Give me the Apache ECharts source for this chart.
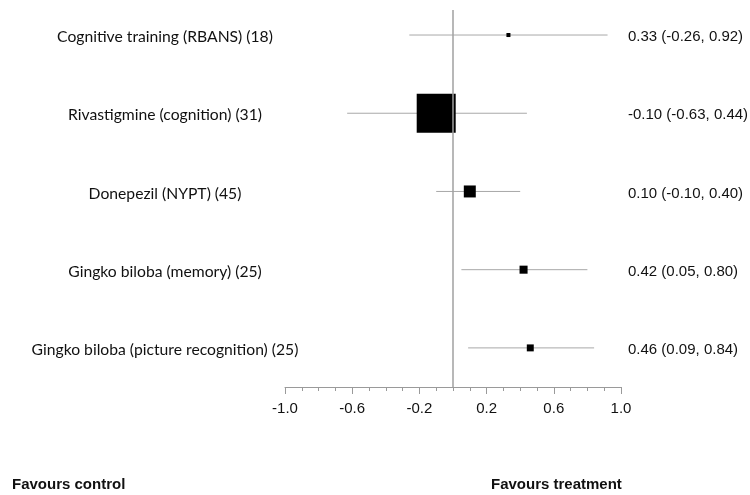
<!DOCTYPE html>
<html>
<head>
<meta charset="utf-8">
<script src="https://cdn.jsdelivr.net/npm/echarts@6/dist/echarts.min.js"></script>
<style>
  html, body { margin: 0; padding: 0; background: #fff; }
  #chart { width: 750px; height: 495px; }
</style>
</head>
<body>
<div id="chart"></div>
<script>
// data (top row first)
const studies = [
  'Cognitive training (RBANS)',
  'Rivastigmine (cognition)',
  'Donepezil (NYPT)',
  'Gingko biloba (memory)',
  'Gingko biloba (picture recognition)'
];
const sampleSizes = [18, 31, 45, 25, 25];
const estimates = [0.33, -0.10, 0.10, 0.42, 0.46];
const lowerCI = [-0.26, -0.63, -0.10, 0.05, 0.09];
const upperCI = [0.92, 0.44, 0.40, 0.80, 0.84];
// relative weight (%) -> box area
const weights = [0.9, 84.8, 8.0, 3.6, 2.7];
const xTicks = [-1.0, -0.6, -0.2, 0.2, 0.6, 1.0];

const MAX_BOX = 39;
const labelFont = '15.7px Lato, "Noto Sans", sans-serif';
const numFont = '15px "Liberation Sans", Arial, sans-serif';

const nRows = studies.length;
const rowY = studies.map((s, i) => nRows - i);
const maxWeight = Math.max(...weights);
const fmt = (v) => v.toFixed(2);

const ciData = rowY.map((y, i) => [y, lowerCI[i], upperCI[i]]);
const boxData = rowY.map((y, i) => [estimates[i], y, weights[i]]);
const textData = rowY.map((y, i) => [y, i]);

const chart = echarts.init(document.getElementById('chart'), null, { renderer: 'canvas' });

chart.setOption({
  animation: false,
  backgroundColor: '#fff',
  grid: { left: 285, right: 129, top: 10, bottom: 108 },
  xAxis: {
    type: 'value',
    min: xTicks[0],
    max: xTicks[xTicks.length - 1],
    interval: Math.round((xTicks[1] - xTicks[0]) * 10) / 10,
    splitLine: { show: false },
    axisLine: { lineStyle: { color: '#9a9a9a', width: 1 } },
    axisTick: { length: 7, lineStyle: { color: '#9a9a9a' } },
    minorTick: { show: true, splitNumber: 4, length: 4, lineStyle: { color: '#9a9a9a' } },
    minorSplitLine: { show: false },
    axisLabel: {
      formatter: (v) => v.toFixed(1),
      color: '#111',
      fontFamily: '"Liberation Sans", Arial, sans-serif',
      fontSize: 15,
      margin: 14
    }
  },
  yAxis: {
    type: 'value',
    min: 0.5,
    max: 5.32,
    show: false
  },
  graphic: [
    {
      type: 'text', left: 12, top: 477,
      style: { text: 'Favours control', font: 'bold 15px "Liberation Sans", Arial, sans-serif', fill: '#111' }
    },
    {
      type: 'text', left: 491, top: 477,
      style: { text: 'Favours treatment', font: 'bold 15px "Liberation Sans", Arial, sans-serif', fill: '#111' }
    }
  ],
  series: [
    {
      type: 'custom',
      name: 'ci',
      data: ciData,
      encode: { x: [1, 2], y: 0 },
      z: 2,
      renderItem: (params, api) => {
        const y = api.value(0);
        const p1 = api.coord([api.value(1), y]);
        const p2 = api.coord([api.value(2), y]);
        return {
          type: 'line',
          shape: { x1: p1[0], y1: p1[1], x2: p2[0], y2: p2[1] },
          style: { stroke: '#a8a8a8', lineWidth: 1 }
        };
      }
    },
    {
      type: 'scatter',
      name: 'estimate',
      data: boxData,
      symbol: 'rect',
      symbolSize: (val) => MAX_BOX * Math.sqrt(val[2] / maxWeight),
      itemStyle: { color: '#000', opacity: 1 },
      z: 4,
      markLine: {
        silent: true,
        symbol: 'none',
        label: { show: false },
        lineStyle: { color: '#a0a0a0', width: 1.5, type: 'solid' },
        data: [{ xAxis: 0 }]
      }
    },
    {
      type: 'custom',
      name: 'labels',
      data: textData,
      encode: { y: 0 },
      z: 5,
      renderItem: (params, api) => {
        const y = api.value(0);
        const i = api.value(1);
        const left = api.coord([xTicks[0], y]);
        const right = api.coord([xTicks[xTicks.length - 1], y]);
        return {
          type: 'group',
          children: [
            {
              type: 'text',
              x: left[0] - 120, y: left[1] + 2,
              style: {
                text: studies[i] + ' (' + sampleSizes[i] + ')',
                font: labelFont, fill: '#111',
                align: 'center', verticalAlign: 'middle'
              }
            },
            {
              type: 'text',
              x: right[0] + 7, y: right[1] + 2,
              style: {
                text: fmt(estimates[i]) + ' (' + fmt(lowerCI[i]) + ', ' + fmt(upperCI[i]) + ')',
                font: numFont, fill: '#111',
                align: 'left', verticalAlign: 'middle'
              }
            }
          ]
        };
      }
    }
  ]
});
</script>
</body>
</html>
